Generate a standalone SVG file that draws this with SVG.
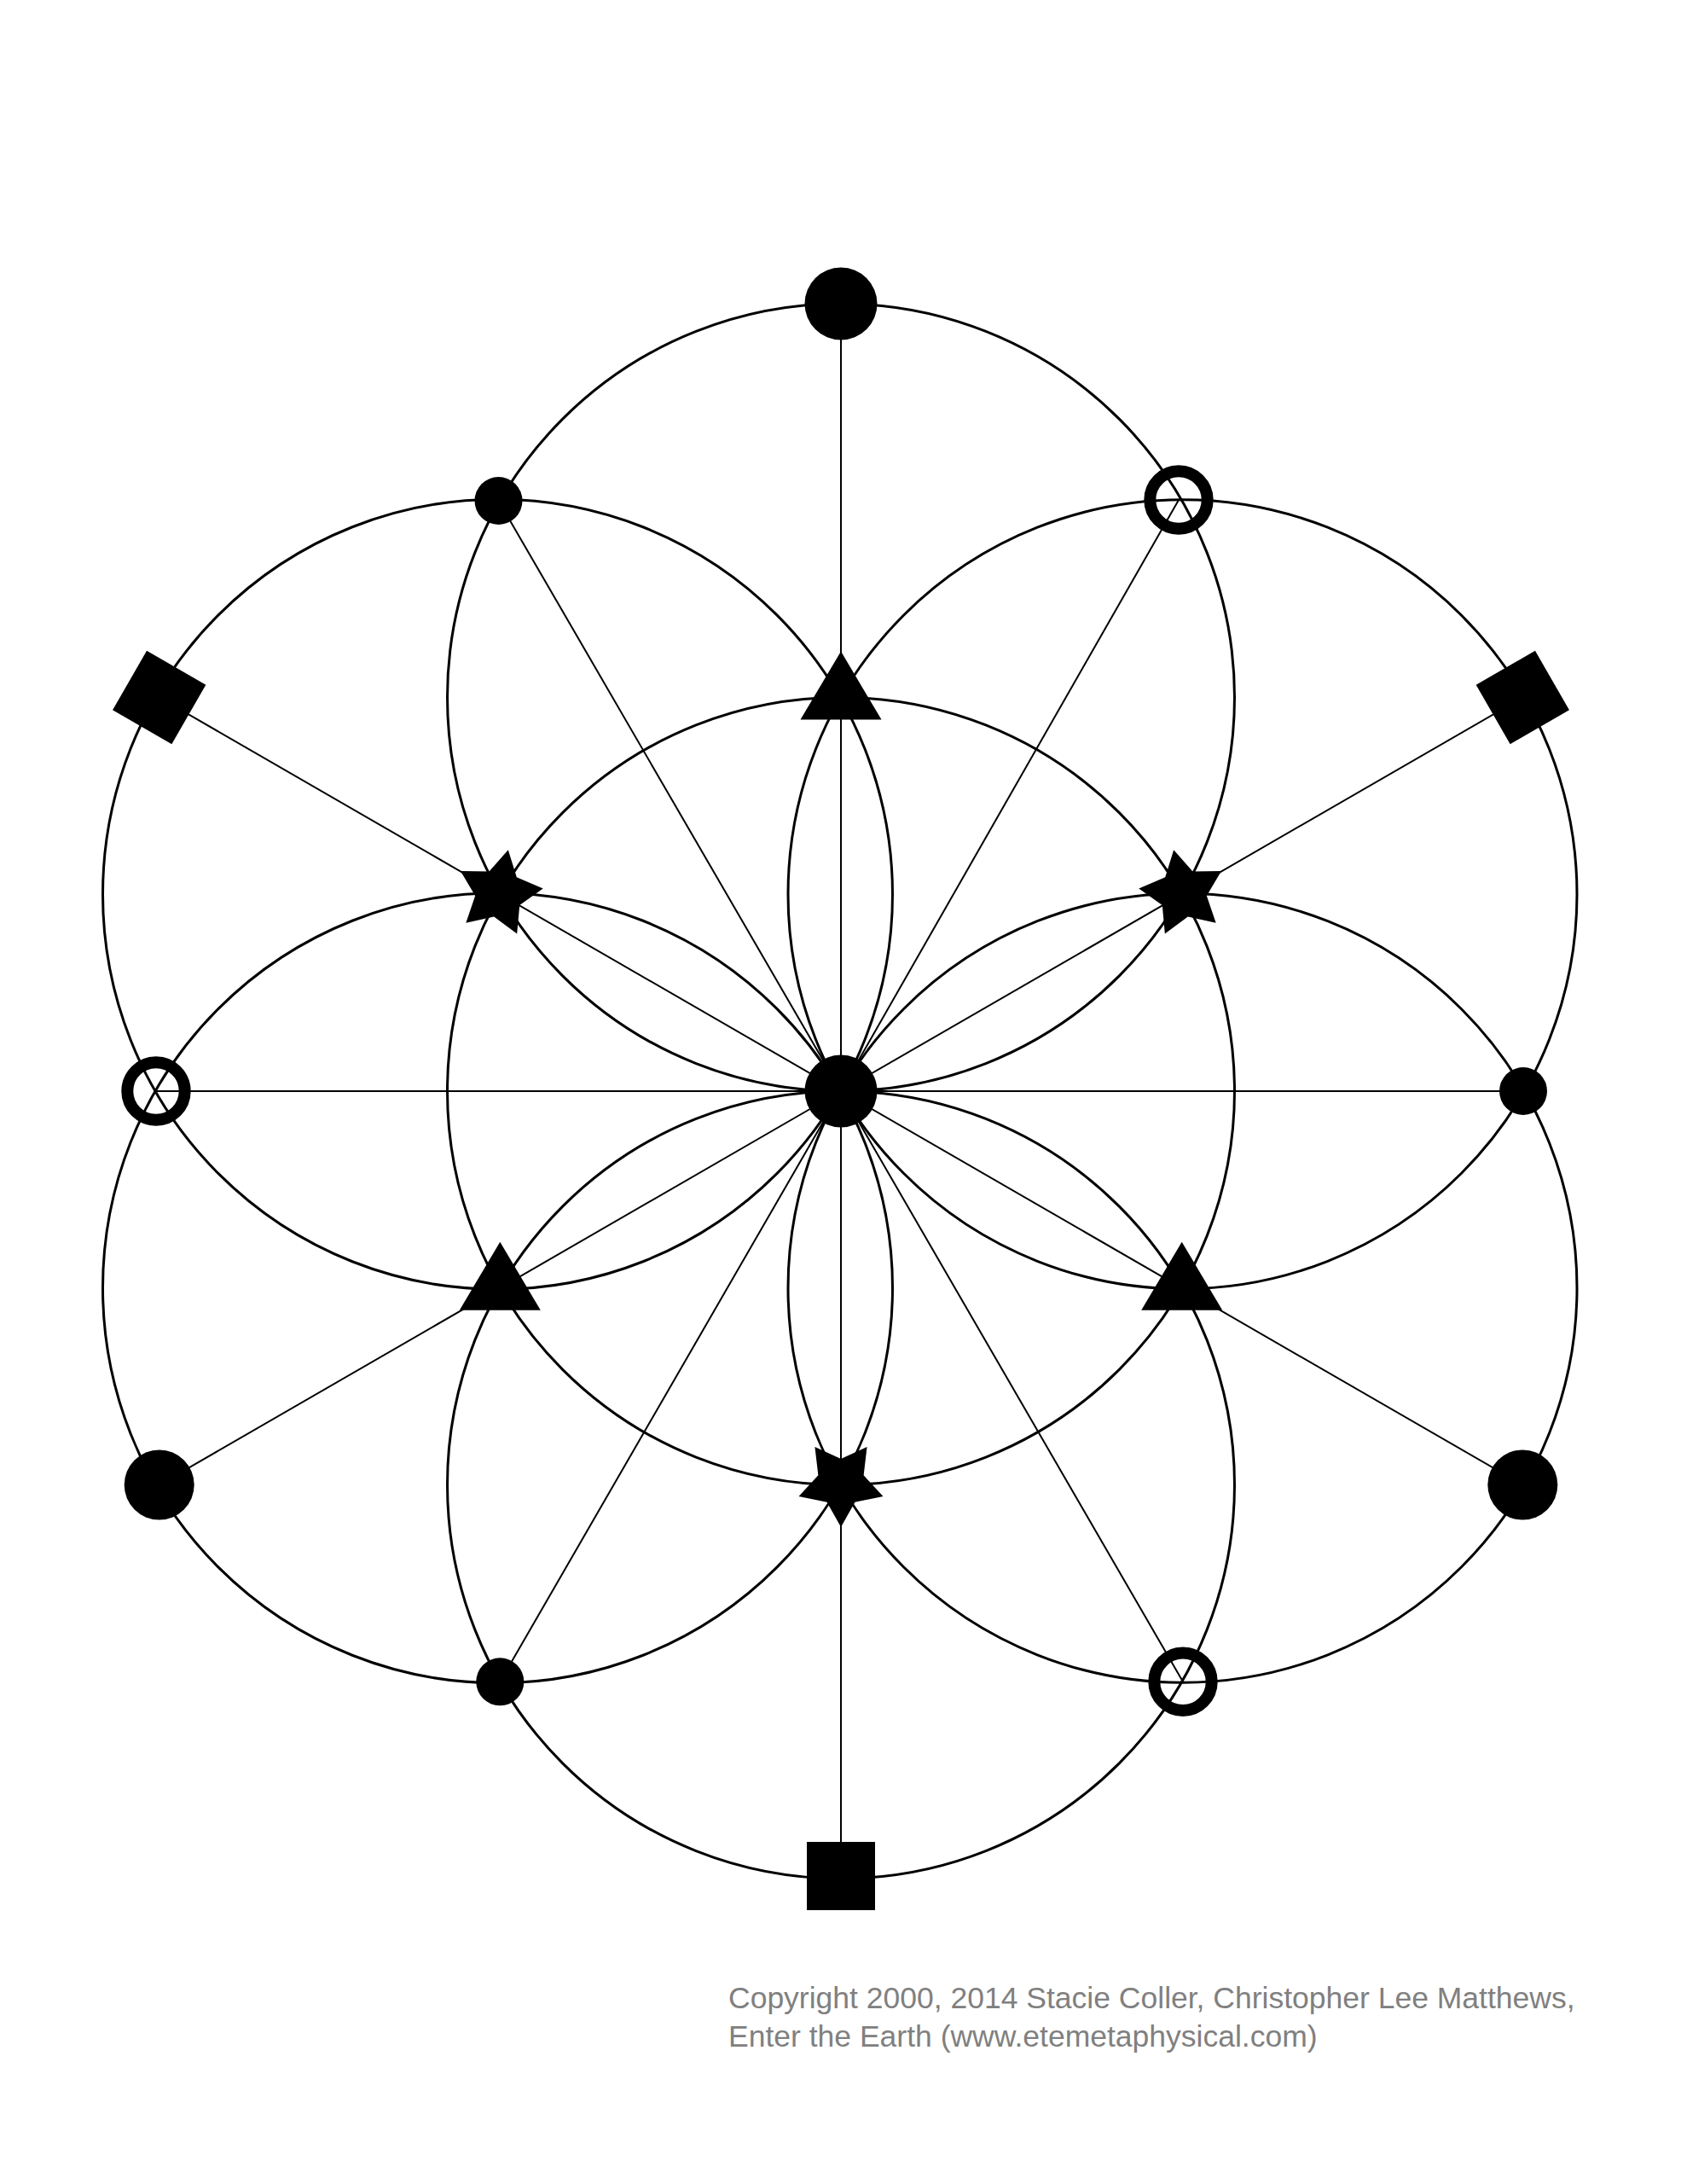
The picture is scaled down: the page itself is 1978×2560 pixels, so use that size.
<svg xmlns="http://www.w3.org/2000/svg" width="1978" height="2560" viewBox="0 0 1978 2560">
<style>
.ring{fill:none;stroke:#000;stroke-width:3}
.spoke{stroke:#000;stroke-width:2;fill:none}
.fill{fill:#000}
.open{fill:none;stroke:#000;stroke-width:14}
.note{font-family:"Liberation Sans",Arial,sans-serif;font-size:35.5px;fill:#808080}
</style>
<defs>
<path id="star" d="M0,52 L-16.46,22.65 L-49.46,16.07 L-26.63,-8.65 L-30.57,-42.07 L0,-28 L30.57,-42.07 L26.63,-8.65 L49.46,16.07 L16.46,22.65 Z"/>
<path id="tri" d="M0,-54 L47.5,26 L-47.5,26 Z"/>
<rect id="sq" x="-40" y="-40" width="80" height="80"/>
</defs>
<rect width="1978" height="2560" fill="#fff"/>
<g id="circles">
<circle class="ring" cx="986" cy="1279" r="461.5"/>
<circle class="ring" cx="986" cy="817.5" r="461.5"/>
<circle class="ring" cx="986" cy="1740.5" r="461.5"/>
<circle class="ring" cx="1386.5" cy="1048.25" r="462.5"/>
<circle class="ring" cx="1386.5" cy="1509.75" r="462.5"/>
<circle class="ring" cx="583.5" cy="1048.25" r="463"/>
<circle class="ring" cx="583.5" cy="1509.75" r="463"/>
</g>
<g id="connectors">
<line class="spoke" x1="986" y1="1279" x2="986" y2="356"/>
<line class="spoke" x1="986" y1="1279" x2="1785.3" y2="817.5"/>
<line class="spoke" x1="986" y1="1279" x2="186.7" y2="817.5"/>
<line class="spoke" x1="986" y1="1279" x2="186.7" y2="1740.5"/>
<line class="spoke" x1="986" y1="1279" x2="986" y2="2200"/>
<line class="spoke" x1="986" y1="1279" x2="1785.3" y2="1740.5"/>
<line class="spoke" x1="986" y1="1279" x2="1786" y2="1279"/>
<line class="spoke" x1="986" y1="1279" x2="1382" y2="586"/>
<line class="spoke" x1="986" y1="1279" x2="584.5" y2="587"/>
<line class="spoke" x1="986" y1="1279" x2="183" y2="1279"/>
<line class="spoke" x1="986" y1="1279" x2="586.3" y2="1971.3"/>
<line class="spoke" x1="986" y1="1279" x2="1387" y2="1971.3"/>
</g>
<g id="node-center"><circle class="fill" cx="986" cy="1279" r="42.5"/></g>
<g id="node-top"><circle class="fill" cx="986" cy="356" r="42.5"/></g>
<g id="node-lower-left-dot"><circle class="fill" cx="186.7" cy="1740.5" r="41"/></g>
<g id="node-lower-right-dot"><circle class="fill" cx="1785.3" cy="1740.5" r="41"/></g>
<g id="node-upper-left-square"><use href="#sq" class="fill" transform="translate(186.7,817.5) rotate(30)"/></g>
<g id="node-upper-right-square"><use href="#sq" class="fill" transform="translate(1785.3,817.5) rotate(-30)"/></g>
<g id="node-bottom-square"><use href="#sq" class="fill" transform="translate(986,2199)"/></g>
<g id="node-right-small"><circle class="fill" cx="1786" cy="1279" r="28"/></g>
<g id="node-upper-left-small"><circle class="fill" cx="584.5" cy="587" r="28"/></g>
<g id="node-lower-left-small"><circle class="fill" cx="586.3" cy="1971.3" r="28"/></g>
<g id="node-upper-right-ring"><circle class="open" cx="1382" cy="586" r="33.7"/></g>
<g id="node-left-ring"><circle class="open" cx="183" cy="1279" r="33.7"/></g>
<g id="node-lower-right-ring"><circle class="open" cx="1387" cy="1971.3" r="33.7"/></g>
<g id="node-top-triangle"><use href="#tri" class="fill" transform="translate(986,817.5)"/></g>
<g id="node-lower-left-triangle"><use href="#tri" class="fill" transform="translate(586.3,1509.75)"/></g>
<g id="node-lower-right-triangle"><use href="#tri" class="fill" transform="translate(1385.7,1509.75)"/></g>
<g id="node-upper-right-star"><use href="#star" class="fill" transform="translate(1387,1047) rotate(-120)"/></g>
<g id="node-upper-left-star"><use href="#star" class="fill" transform="translate(585,1047) rotate(120)"/></g>
<g id="node-bottom-star"><use href="#star" class="fill" transform="translate(986,1738)"/></g>
<g id="copyright">
<text class="note" x="854" y="2354">Copyright 2000, 2014 Stacie Coller, Christopher Lee Matthews,</text>
<text class="note" x="854" y="2399">Enter the Earth (www.etemetaphysical.com)</text>
</g>
</svg>
